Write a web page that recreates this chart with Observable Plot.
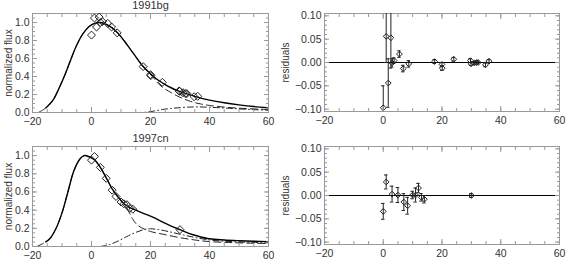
<!DOCTYPE html>
<html><head><meta charset="utf-8">
<script src="https://cdn.jsdelivr.net/npm/d3@7"></script>
<script src="https://cdn.jsdelivr.net/npm/@observablehq/plot@0.6"></script>
<style>
body{margin:0;background:#fff;}
#wrap{position:relative;width:567px;height:260px;overflow:hidden;background:#fff;}
#wrap>div{position:absolute;}
</style></head><body><div id="wrap"></div>
<script>
// ---------- 1991bg ----------
const bgTotalX = [-15.5,-13,-11,-9,-7,-5,-3,-1,1,3,5,7,9,11,13,15,17,19,21,23,25,27,29,31,33,35,37,40,45,50,55,60];
const bgTotalY = [0.05,0.14,0.27,0.42,0.59,0.75,0.87,0.95,0.99,1.0,0.98,0.94,0.88,0.80,0.71,0.62,0.53,0.46,0.40,0.35,0.31,0.275,0.245,0.22,0.20,0.18,0.16,0.137,0.108,0.085,0.066,0.052];
const bgDashX = [-18,-15.5,-13,-11,-9,-7,-5,-3,-1,1,3,5,7,9,11,13,15,17,19,21,23,25,27,29,31,33,35,37,40,45,50,55,60];
const bgDashY = [0,0.05,0.14,0.27,0.42,0.59,0.75,0.87,0.95,0.99,1.0,0.98,0.94,0.88,0.80,0.71,0.62,0.53,0.46,0.385,0.31,0.26,0.22,0.185,0.155,0.13,0.11,0.095,0.078,0.06,0.048,0.04,0.033];
const bgDotX = [15,18,21,24,27,30,33,36,40,45,50,55,60];
const bgDotY = [0,0.002,0.015,0.033,0.045,0.054,0.06,0.062,0.058,0.05,0.04,0.032,0.025];
const bgObsX = [0,1,1.7,2.6,3,3.7,5.5,6.8,8.7,17.5,20,20.1,24,29.7,29.9,31,31.8,32.3,34.8,36];
const bgFlux = [0.86,1.05,0.95,1.06,1.0,1.01,0.99,0.95,0.885,0.51,0.42,0.41,0.335,0.24,0.235,0.22,0.21,0.21,0.175,0.18];
const bgResid = [-0.097,0.056,-0.044,0.053,-0.001,0.004,0.018,-0.013,-0.003,0.002,-0.004,-0.012,0.007,0.004,-0.003,-0.001,0,0,-0.005,0.003];
const bgErr = [0.047,0.056,0.052,0.065,0.009,0.006,0.007,0.007,0.007,0.004,0.004,0.005,0.004,0.004,0.003,0.003,0.003,0.003,0.004,0.003];

// ---------- 1997cn ----------
const cnTotalX = [-15.5,-14,-12,-10,-8,-6,-4,-2.5,-1,1,3,5,7,9,11,13,15,18,21,24,27,30,33,36,40,45,50,55,60];
const cnTotalY = [0.05,0.09,0.2,0.37,0.6,0.83,0.96,1.0,0.99,0.955,0.87,0.755,0.635,0.545,0.47,0.428,0.40,0.36,0.32,0.27,0.225,0.185,0.145,0.115,0.085,0.072,0.064,0.058,0.054];
const cnDashX = [-18.5,-15.5,-14,-12,-10,-8,-6,-4,-2.5,-1,1,3,5,7,9,11,12,13,14,15,16,18,20,25,30,35,40,45,50,55,60];
const cnDashY = [0,0.05,0.09,0.2,0.37,0.6,0.83,0.96,1.0,0.99,0.955,0.87,0.755,0.635,0.545,0.47,0.42,0.36,0.30,0.255,0.225,0.19,0.165,0.13,0.097,0.072,0.054,0.046,0.04,0.036,0.033];
const cnDotX = [3,6,9,12,15,18,20,23,26,30,35,40,45,50,55,60];
const cnDotY = [0,0.02,0.06,0.11,0.155,0.188,0.195,0.185,0.165,0.135,0.1,0.072,0.058,0.05,0.045,0.04];
const cnObsX = [0,1,3,5,7,8.3,10,11,12,13,14,30];
const cnFlux = [0.95,0.99,0.87,0.75,0.62,0.55,0.49,0.47,0.46,0.42,0.41,0.185];
const cnResid = [-0.034,0.029,0.003,0.001,-0.014,-0.022,0.001,0.001,0.016,-0.004,-0.008,0.0];
const cnErr = [0.017,0.015,0.017,0.016,0.018,0.018,0.008,0.015,0.01,0.008,0.008,0.004];

// ---------- ticks ----------
const xMajor = [-20,0,20,40,60];
const xMinor = d3.range(-20,61,5);
const fluxMajor = [0,0.2,0.4,0.6,0.8,1.0];
const fluxMinor = d3.range(0,1.101,0.05);
const resMajor = [-0.10,-0.05,0,0.05,0.10];
const resMinor = d3.range(-0.10,0.1001,0.01);

const FONT = "Liberation Sans, Arial, sans-serif";
const FRAME = "#999";
const TXT = "#333";

function zip(xs, ys, key="y"){ return xs.map((x,i)=>({x, [key]: ys[i]})); }

function axes(xFmt, yMajor, yMinor, yFmt){
  const m = [];
  for (const a of ["bottom","top"]) {
    m.push(Plot.axisX({anchor:a, ticks:xMajor, tickSize:-5, fill:"none", stroke:FRAME, label:null}));
    m.push(Plot.axisX({anchor:a, ticks:xMinor, tickSize:-3, fill:"none", stroke:FRAME, label:null}));
  }
  for (const a of ["left","right"]) {
    m.push(Plot.axisY({anchor:a, ticks:yMajor, tickSize:-5, fill:"none", stroke:FRAME, label:null}));
    m.push(Plot.axisY({anchor:a, ticks:yMinor, tickSize:-3, fill:"none", stroke:FRAME, label:null}));
  }
  m.push(Plot.axisX({anchor:"bottom", ticks:xMajor, tickSize:0, tickPadding:5, fill:TXT, tickFormat:xFmt, label:null}));
  m.push(Plot.axisY({anchor:"left", ticks:yMajor, tickSize:0, tickPadding:3, fill:TXT, tickFormat:yFmt, label:null}));
  return m;
}

function fluxPanel({title, totX, totY, dashX, dashY, dotX, dotY, obsX, obs, mt, mb}){
  return Plot.plot({
    width:283, height:130, marginLeft:32, marginRight:15, marginTop:mt, marginBottom:mb,
    style:{fontFamily:FONT, fontSize:"10.5px", color:TXT, background:"transparent", overflow:"visible"},
    x:{domain:[-20,60]},
    y:{domain:[0,1.1]},
    marks:[
      Plot.frame({stroke:FRAME}),
      Plot.line(zip(dashX,dashY), {x:"x", y:"y", curve:"catmull-rom", stroke:"#222", strokeWidth:1, strokeDasharray:"7,4", clip:true}),
      Plot.line(zip(dotX,dotY), {x:"x", y:"y", curve:"catmull-rom", stroke:"#222", strokeWidth:1, strokeDasharray:"6,3,1,3", clip:true}),
      Plot.line(zip(totX,totY), {x:"x", y:"y", curve:"catmull-rom", stroke:"#000", strokeWidth:1.4, clip:true}),
      Plot.dot(zip(obsX,obs), {x:"x", y:"y", symbol:"diamond2", r:3.6, stroke:"#222", strokeWidth:1, fill:"none"}),
      ...axes(d3.format("d"), fluxMajor, fluxMinor, d3.format(".1f")),
      Plot.text([title], {frameAnchor:"top", dy:-8, lineAnchor:"middle", fontSize:11, fill:TXT}),
      Plot.text(["normalized flux"], {frameAnchor:"left", textAnchor:"middle", lineAnchor:"middle", rotate:-90, dx:-24, fontSize:10, fill:TXT})
    ]
  });
}

function resPanel({obsX, res, err, mt, mb}){
  const data = obsX.map((x,i)=>({x, r:res[i], e:err[i]}));
  return Plot.plot({
    width:287, height:130, marginLeft:44, marginRight:8, marginTop:mt, marginBottom:mb,
    style:{fontFamily:FONT, fontSize:"10.5px", color:TXT, background:"transparent", overflow:"visible"},
    x:{domain:[-20,60]},
    y:{domain:[-0.105,0.105]},
    marks:[
      Plot.frame({stroke:FRAME}),
      Plot.ruleY([0], {stroke:"#000", strokeWidth:1}),
      Plot.ruleX(data, {x:"x", y1:d=>d.r-d.e, y2:d=>d.r+d.e, stroke:"#222", strokeWidth:1, clip:true}),
      Plot.ruleY(data, {y:d=>d.r-d.e, x1:d=>d.x-0.6, x2:d=>d.x+0.6, stroke:"#222", strokeWidth:1, clip:true}),
      Plot.ruleY(data, {y:d=>d.r+d.e, x1:d=>d.x-0.6, x2:d=>d.x+0.6, stroke:"#222", strokeWidth:1, clip:true}),
      Plot.dot(data, {x:"x", y:"r", symbol:"diamond2", r:2.6, stroke:"#222", strokeWidth:1, fill:"none"}),
      ...axes(d3.format("d"), resMajor, resMinor, d3.format(".2f")),
      Plot.text(["residuals"], {frameAnchor:"left", textAnchor:"middle", lineAnchor:"middle", rotate:-90, dx:-39, fontSize:10, fill:TXT})
    ]
  });
}

const wrap = document.getElementById("wrap");
function place(el, left, top){ const d=document.createElement("div"); d.style.left=left+"px"; d.style.top=top+"px"; d.appendChild(el); wrap.appendChild(d); }

place(fluxPanel({title:"1991bg", totX:bgTotalX, totY:bgTotalY, dashX:bgDashX, dashY:bgDashY, dotX:bgDotX, dotY:bgDotY, obsX:bgObsX, obs:bgFlux, mt:13, mb:18}), 0, 0);
place(resPanel({obsX:bgObsX, res:bgResid, err:bgErr, mt:13, mb:19}), 280, 0);
place(fluxPanel({title:"1997cn", totX:cnTotalX, totY:cnTotalY, dashX:cnDashX, dashY:cnDashY, dotX:cnDotX, dotY:cnDotY, obsX:cnObsX, obs:cnFlux, mt:16, mb:14}), 0, 130);
place(resPanel({obsX:cnObsX, res:cnResid, err:cnErr, mt:16, mb:16}), 280, 130);
</script>
</body></html>
